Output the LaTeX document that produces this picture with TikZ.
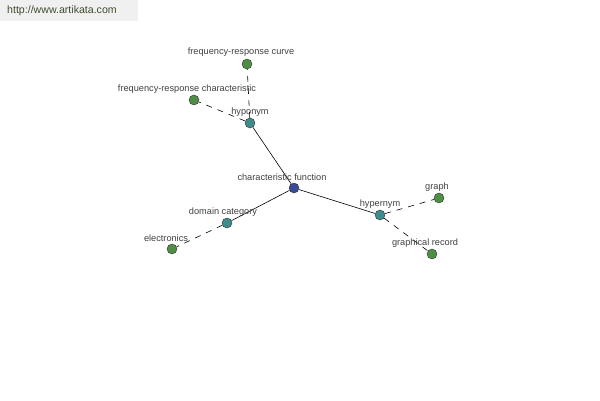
\documentclass[tikz,border=0pt]{standalone}
\usepackage{fontspec}
\setmainfont{Liberation Sans}
\definecolor{leafgreen}{HTML}{4F8F45}
\definecolor{relteal}{HTML}{3F8C8C}
\definecolor{rootblue}{HTML}{3B4A96}
\definecolor{labelgray}{HTML}{404040}
\definecolor{urlgreen}{HTML}{3E4E30}
\begin{document}
\begin{tikzpicture}[
  x=1pt, y=-1pt,
  dot/.style={circle, draw=black!80, fill=#1, minimum size=10pt, inner sep=0pt},
  lbl/.style={font=\fontsize{9.2}{10}\selectfont, text=labelgray, inner sep=0pt},
  link/.style={black, line width=0.6pt},
  dlink/.style={black, line width=0.6pt, dash pattern=on 6pt off 6pt}
]
  \useasboundingbox (0,0) rectangle (600,400);
  % header
  \node[fill=black!6, minimum width=138pt, minimum height=21pt, anchor=north west,
        inner sep=0pt] (hdr) at (0,0) {};
  \node[font=\fontsize{10.6}{12}\selectfont, text=urlgreen, anchor=west, inner sep=0pt]
    (url) at (7,11) {http://www.artikata.com};
  % nodes
  \node[dot=rootblue] (root) at (294,188) {};
  \node[dot=relteal] (hypo) at (250,123) {};
  \node[dot=relteal] (hyper) at (380,215) {};
  \node[dot=relteal] (dom) at (227,223) {};
  \node[dot=leafgreen] (curve) at (247,64) {};
  \node[dot=leafgreen] (charac) at (194,100) {};
  \node[dot=leafgreen] (elec) at (172,249) {};
  \node[dot=leafgreen] (graph) at (439,198) {};
  \node[dot=leafgreen] (grec) at (432,254) {};
  % edges
  \draw[link] (root) -- (hypo);
  \draw[link] (root) -- (hyper);
  \draw[link] (root) -- (dom);
  \draw[dlink] (hypo) -- (curve);
  \draw[dlink] (hypo) -- (charac);
  \draw[dlink] (hyper) -- (graph);
  \draw[dlink] (hyper) -- (grec);
  \draw[dlink] (dom) -- (elec);
  % labels
  \node[lbl] (lroot) at (282,177) {characteristic function};
  \node[lbl] (lhypo) at (250,112) {hyponym};
  \node[lbl] (lhyper) at (380,204) {hypernym};
  \node[lbl] (ldom) at (223,212) {domain category};
  \node[lbl] (lcurve) at (241,52) {frequency-response curve};
  \node[lbl] (lcharac) at (187,89) {frequency-response characteristic};
  \node[lbl] (lelec) at (166,238) {electronics};
  \node[lbl] (lgraph) at (437,187) {graph};
  \node[lbl] (lgrec) at (425,243) {graphical record};
\end{tikzpicture}
\end{document}
